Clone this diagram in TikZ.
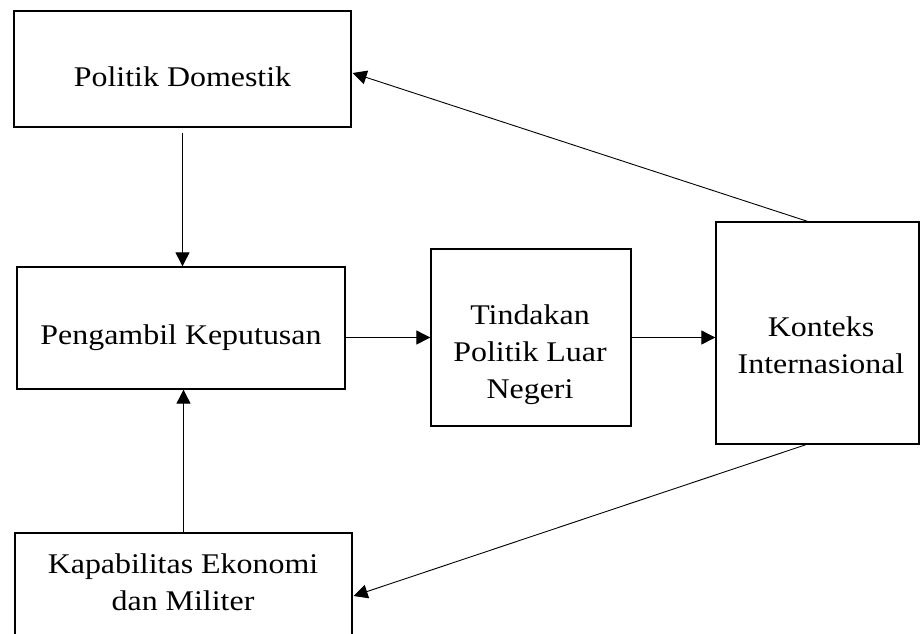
\documentclass[tikz,border=0pt]{standalone}
\usepackage{fontspec}
\setmainfont{Liberation Serif}[FakeStretch=1.12]
\usetikzlibrary{arrows.meta,calc}
\tikzset{
  boxnode/.style={draw=black, line width=1.3pt, rectangle, inner sep=0pt},
  txt/.style={inner sep=0pt, anchor=base, align=center, font=\fontsize{28.5}{37}\selectfont},
  conn/.style={draw=black, line width=0.9pt, -{Triangle[length=14pt,width=14pt]}}
}
\begin{document}
\begin{tikzpicture}[x=1pt, y=-1pt]
\useasboundingbox (0,0) rectangle (921,633);
\clip (0,0) rectangle (921,633);
\fill[white] (0,0) rectangle (921,633);
% boxes
\node[boxnode, minimum width=337pt, minimum height=116pt] (pd) at (182.5,69) {};
\node[boxnode, minimum width=328pt, minimum height=122pt] (pk) at (181,328) {};
\node[boxnode, minimum width=200pt, minimum height=177pt] (tl) at (531,337.5) {};
\node[boxnode, minimum width=203pt, minimum height=222pt] (ki) at (817.5,333) {};
\node[boxnode, minimum width=337pt, minimum height=126pt] (ke) at (183.5,596) {};
% texts (base anchor = baseline of the last line)
\node[txt] (pdt) at (182.5,86.5) {Politik Domestik};
\node[txt] (pkt) at (181,344) {Pengambil Keputusan};
\node[txt] (tlt) at (530,398) {Tindakan\\Politik Luar\\Negeri};
\node[txt] (kit) at (821,373) {Konteks\\Internasional};
\node[txt] (ket) at (183,610) {Kapabilitas Ekonomi\\dan Militer};
% connectors
\draw[conn, shorten <=5pt] (pd.south) -- (pd.south |- pk.north);
\draw[conn] (pk.east |- tl.west) -- (tl.west);
\draw[conn] (tl.east) -- (tl.east -| ki.west);
\draw[conn] ($(ki.north)+(-10,0)$) -- ($(pd.east)+(1,4)$);
\draw[conn] ($(ki.south)+(-11.5,0)$) -- ($(ke.east)+(1,0)$);
\draw[conn] (ke.north) -- (ke.north |- pk.south);
\end{tikzpicture}
\end{document}
